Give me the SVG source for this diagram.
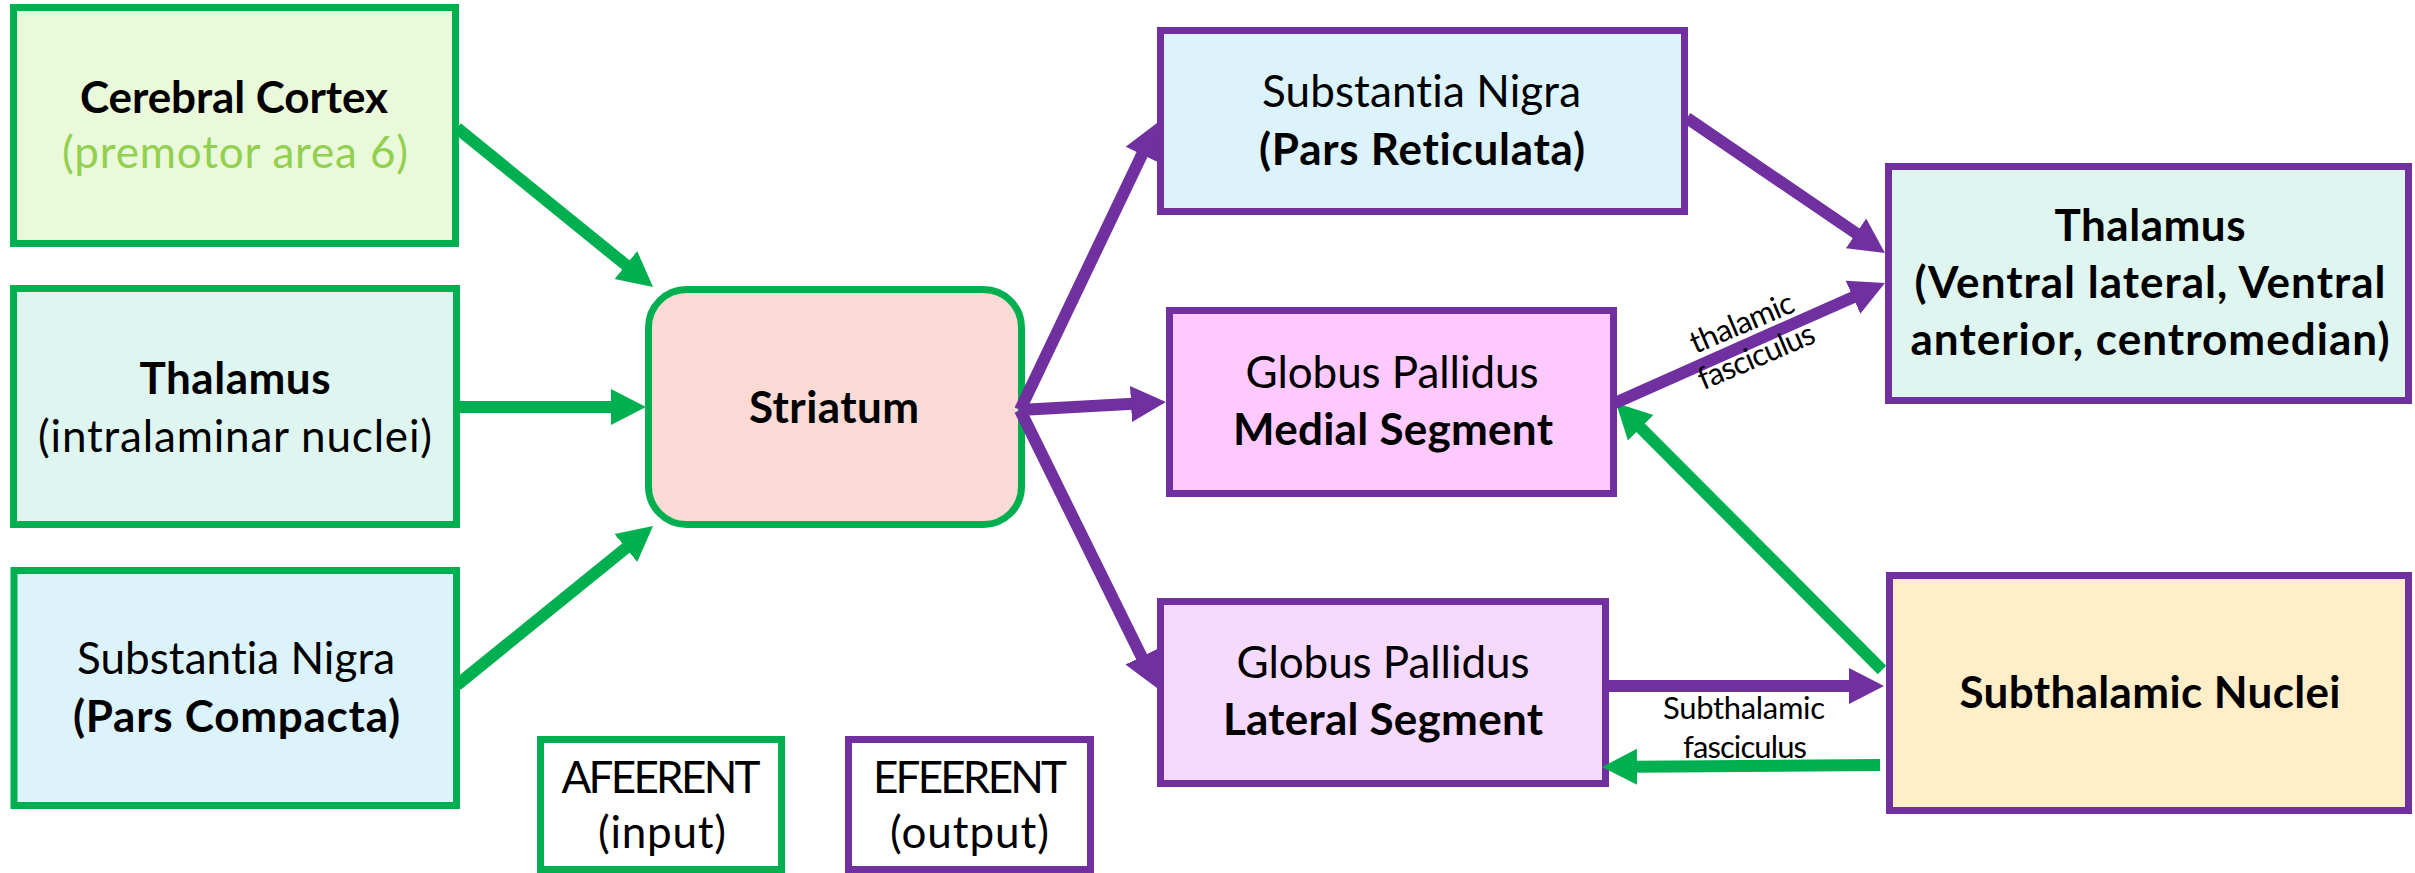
<svg xmlns="http://www.w3.org/2000/svg" width="2415" height="873" viewBox="0 0 2415 873">
<style>
text{font-family:Lato,"Open Sans","Liberation Sans",sans-serif;font-size:44px;fill:#000;text-anchor:middle;font-variant-ligatures:none;font-feature-settings:"liga" 0,"clig" 0}
.b{font-weight:bold}
.s{font-size:31px}
.g{stroke:#00B050;stroke-width:7}
.p{stroke:#7030A0;stroke-width:7}
.cg{stroke:#00B050;stroke-width:12;fill:none;marker-end:url(#ag)}
.cp{stroke:#7030A0;stroke-width:12;fill:none;marker-end:url(#ap)}
</style>
<defs>
<marker id="ag" markerUnits="userSpaceOnUse" markerWidth="40" markerHeight="40" viewBox="0 -20 40 40" refX="2" refY="0" orient="auto"><path d="M0,-18 L35,0 L0,18 z" fill="#00B050"/></marker>
<marker id="ap" markerUnits="userSpaceOnUse" markerWidth="40" markerHeight="40" viewBox="0 -20 40 40" refX="2" refY="0" orient="auto"><path d="M0,-18 L35,0 L0,18 z" fill="#7030A0"/></marker>
</defs>
<rect width="2415" height="873" fill="#fff"/>
<g id="cerebral-cortex">
<rect class="g" x="13.5" y="7.5" width="442" height="236" fill="#EBF9DB"/>
<text class="b" x="234" y="113" textLength="308">Cerebral Cortex</text>
<text x="235" y="168" textLength="346" style="fill:#92D050">(premotor area 6)</text>
</g>
<g id="thalamus-intralaminar">
<rect class="g" x="13.5" y="288.5" width="443" height="236" fill="#DFF5EF"/>
<text class="b" x="235" y="394" textLength="191">Thalamus</text>
<text x="235" y="452" textLength="394">(intralaminar nuclei)</text>
</g>
<g id="sn-compacta">
<rect class="g" x="14" y="570.5" width="442.5" height="235" fill="#DCF3FB"/>
<text x="236" y="674" textLength="318">Substantia Nigra</text>
<text class="b" x="236.5" y="732" textLength="327">(Pars Compacta)</text>
</g>
<g id="striatum">
<rect class="g" x="648.5" y="289.5" width="373" height="235" rx="38" fill="#FADAD4"/>
<text class="b" x="834" y="423" textLength="170">Striatum</text>
</g>
<g id="sn-reticulata">
<rect class="p" x="1160.5" y="30.5" width="524" height="181" fill="#DCF3FB"/>
<text x="1421.5" y="107" textLength="319">Substantia Nigra</text>
<text class="b" x="1422" y="165" textLength="326">(Pars Reticulata)</text>
</g>
<g id="gp-medial">
<rect class="p" x="1169.5" y="310.5" width="444" height="183" fill="#FDC9FE"/>
<text x="1392" y="388" textLength="293">Globus Pallidus</text>
<text class="b" x="1393" y="445" textLength="320">Medial Segment</text>
</g>
<g id="gp-lateral">
<rect class="p" x="1160.5" y="601.5" width="445" height="182" fill="#F5DAFE"/>
<text x="1383" y="678" textLength="293">Globus Pallidus</text>
<text class="b" x="1383" y="735" textLength="320">Lateral Segment</text>
</g>
<g id="thalamus-ventral">
<rect class="p" x="1888.5" y="166.5" width="520" height="234" fill="#DFF5EF"/>
<text class="b" x="2150" y="241" textLength="191">Thalamus</text>
<text class="b" x="2150" y="298" textLength="471">(Ventral lateral, Ventral</text>
<text class="b" x="2150" y="355" textLength="479">anterior, centromedian)</text>
</g>
<g id="subthalamic-nuclei">
<rect class="p" x="1889.5" y="575.5" width="519" height="235" fill="#FFEEC8"/>
<text class="b" x="2150" y="708" textLength="381">Subthalamic Nuclei</text>
</g>
<g id="legend-afferent">
<rect class="g" x="540.5" y="739.5" width="241" height="130" fill="#fff"/>
<text x="661" y="793" textLength="199">AFEERENT</text>
<text x="662" y="848" textLength="128">(input)</text>
</g>
<g id="legend-efferent">
<rect class="p" x="848.5" y="739.5" width="242" height="130" fill="#fff"/>
<text x="970" y="793" textLength="194">EFEERENT</text>
<text x="969.5" y="848" textLength="159">(output)</text>
</g>
<g id="connectors">
<line class="cg" x1="457" y1="128" x2="627.4" y2="266.2"/>
<line class="cg" x1="460" y1="407" x2="613" y2="407"/>
<line class="cg" x1="457" y1="685" x2="627.4" y2="546.8"/>
<line class="cg" x1="1882" y1="670" x2="1639.3" y2="426.4"/>
<line class="cg" x1="1880" y1="765" x2="1635" y2="766.8"/>
<line class="cp" x1="1020" y1="410" x2="1142.8" y2="152.8"/>
<line class="cp" x1="1020" y1="410" x2="1133" y2="403.8"/>
<line class="cp" x1="1020" y1="410" x2="1142.4" y2="658.4"/>
<line class="cp" x1="1687" y1="118" x2="1857.7" y2="234.4"/>
<line class="cp" x1="1615" y1="403" x2="1854.8" y2="296.4"/>
<line class="cp" x1="1609" y1="686" x2="1851" y2="686"/>
<g transform="translate(1746 332.5) rotate(-23)">
<text class="s" x="0" y="0" textLength="110">thalamic</text>
<text class="s" x="0" y="36.5" textLength="124">fasciculus</text>
</g>
<text class="s" x="1744" y="719" textLength="162">Subthalamic</text>
<text class="s" x="1745" y="758" textLength="124">fasciculus</text>
</g>
</svg>
